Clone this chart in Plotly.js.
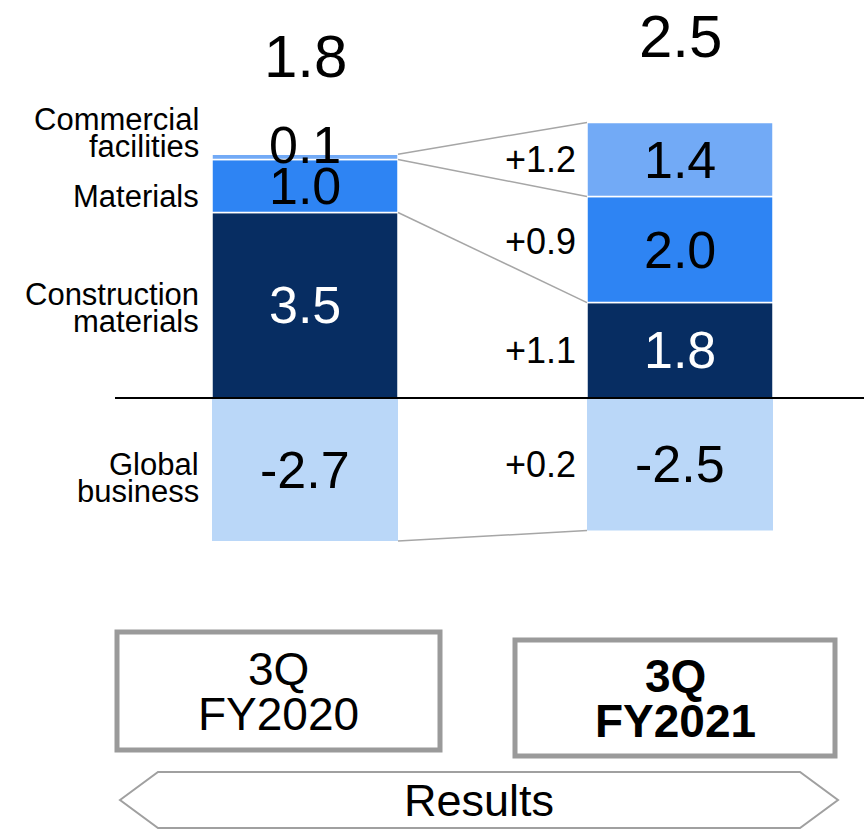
<!DOCTYPE html>
<html>
<head>
<meta charset="utf-8">
<script src="https://cdn.plot.ly/plotly-3.0.1.min.js"></script>
<style>html,body{margin:0;padding:0;background:#fff;}#chart{width:864px;height:830px;}</style>
</head>
<body>
<div id="chart"></div>
<script>
// ---------- data ----------
const periods = ['3Q<br>FY2020', '3Q<br>FY2021'];
const periodBold = [false, true];
const segmentNames = ['Global<br>business', 'Construction<br>materials', 'Materials', 'Commercial<br>facilities'];
const globalBusiness = [-2.7, -2.5];
const constructionMaterials = [3.5, 1.8];
const materialsSeg = [1.0, 2.0];
const commercialFacilities = [0.1, 1.4];
const totals = [1.8, 2.5];
const changeLabels = ['+0.2', '+1.1', '+0.9', '+1.2'];
const bandLabel = 'Results';

// ---------- styling / layout ----------
const FONT = 'Liberation Sans, Arial, sans-serif';
const W = 864, H = 830;
const colors = ['#BAD7F8', '#072D62', '#2E84F3', '#72AAF6'];
const labelColors = ['#000', '#fff', '#000', '#000'];
const barW = 0.496;
const xs = [0, 1];
const px = x => x / W;
const py = y => 1 - y / H;
const totalShift = [98, 86];

const series = [globalBusiness, constructionMaterials, materialsSeg, commercialFacilities];

const traces = series.map((vals, i) => ({
  type: 'bar',
  x: xs,
  y: vals,
  width: barW,
  marker: {color: colors[i], line: {color: i === 0 ? colors[0] : '#ffffff', width: i === 0 ? 0 : 1.5}},
  hoverinfo: 'skip',
  name: segmentNames[i].replace('<br>', ' ')
}));

function ranges(k) {
  const g = globalBusiness[k], c = constructionMaterials[k], m = materialsSeg[k], f = commercialFacilities[k];
  return [[g, 0], [0, c], [c, c + m], [c + m, c + m + f]];
}

const annotations = [];
const shapes = [];

for (let k = 0; k < 2; k++) {
  const r = ranges(k);
  r.forEach((rg, i) => {
    const v = series[i][k];
    const small = Math.abs(rg[1] - rg[0]) < 0.5;
    annotations.push({
      x: xs[k], y: (rg[0] + rg[1]) / 2, xref: 'x', yref: 'y',
      text: v.toFixed(1), showarrow: false,
      xanchor: 'center', yanchor: 'middle', yshift: small ? 12 : 0,
      font: {family: FONT, size: 52, color: labelColors[i]}
    });
  });
  annotations.push({
    x: xs[k], y: r[3][1], xref: 'x', yref: 'y',
    text: totals[k].toFixed(1), showarrow: false,
    xanchor: 'center', yanchor: 'middle', yshift: totalShift[k],
    font: {family: FONT, size: 60, color: '#000'}
  });
}

{
  const r = ranges(1);
  const shifts = [0, 0, 8, 0];
  r.forEach((rg, i) => {
    annotations.push({
      x: xs[1] - barW / 2, y: (rg[0] + rg[1]) / 2, xref: 'x', yref: 'y',
      text: changeLabels[i], showarrow: false,
      xanchor: 'right', yanchor: 'middle', xshift: -9, yshift: shifts[i],
      font: {family: FONT, size: 36, color: '#000'}
    });
  });
}

{
  const r = ranges(0);
  const yshifts = [-8, -3, -10, 24];
  r.forEach((rg, i) => {
    const lines = segmentNames[i].split('<br>');
    const lh = 27;
    lines.forEach((ln, j) => {
      annotations.push({
        x: px(201), y: (rg[0] + rg[1]) / 2, xref: 'paper', yref: 'y',
        text: ln, showarrow: false, xanchor: 'right', yanchor: 'middle',
        yshift: yshifts[i] - (j - (lines.length - 1) / 2) * lh,
        font: {family: FONT, size: 31, color: '#000'}
      });
    });
  });
}

{
  const a = ranges(0), b = ranges(1);
  const pairs = [[a[3][1], b[3][1]], [a[2][1], b[2][1]], [a[1][1], b[1][1]], [a[0][0], b[0][0]]];
  pairs.forEach(p => shapes.push({
    type: 'line', xref: 'x', yref: 'y',
    x0: xs[0] + barW / 2, x1: xs[1] - barW / 2, y0: p[0], y1: p[1],
    line: {color: '#A6A6A6', width: 1.5}, layer: 'above'
  }));
}

shapes.push({type: 'line', xref: 'paper', yref: 'y', x0: px(115), x1: 1, y0: 0, y1: 0,
  line: {color: '#000', width: 2}, layer: 'above'});

const boxes = [[117, 632, 440, 750], [515, 640, 835, 756]];
boxes.forEach((bx, k) => {
  shapes.push({type: 'rect', xref: 'paper', yref: 'paper',
    x0: px(bx[0]), x1: px(bx[2]), y0: py(bx[3]), y1: py(bx[1]),
    line: {color: '#9A9A9A', width: 5}, fillcolor: '#fff'});
  const lines = periods[k].split('<br>');
  const cy = (bx[1] + bx[3]) / 2;
  lines.forEach((ln, j) => {
    annotations.push({
      x: px((bx[0] + bx[2]) / 2), y: py(cy + (j - 0.5) * 45), xref: 'paper', yref: 'paper',
      text: periodBold[k] ? '<b>' + ln + '</b>' : ln, showarrow: false,
      xanchor: 'center', yanchor: 'middle',
      font: {family: FONT, size: 46, color: '#000'}
    });
  });
});

{
  const pts = [[120, 800], [158, 772], [800, 772], [838, 800], [800, 828], [158, 828]];
  const path = 'M' + pts.map(p => px(p[0]).toFixed(5) + ',' + py(p[1]).toFixed(5)).join(' L') + ' Z';
  shapes.push({type: 'path', xref: 'paper', yref: 'paper', path: path,
    line: {color: '#A0A0A0', width: 2}, fillcolor: '#fff'});
  annotations.push({x: px(479), y: py(800), xref: 'paper', yref: 'paper', text: bandLabel,
    showarrow: false, xanchor: 'center', yanchor: 'middle',
    font: {family: FONT, size: 45, color: '#000'}});
}

const pxPerUnit = 53;
const zeroY = 398;
const layout = {
  width: W, height: H,
  margin: {l: 0, r: 0, t: 0, b: 0},
  paper_bgcolor: '#fff', plot_bgcolor: '#fff',
  barmode: 'relative',
  showlegend: false,
  xaxis: {range: [-305 / 375, (W - 305) / 375], visible: false, fixedrange: true},
  yaxis: {range: [-(H - zeroY) / pxPerUnit, zeroY / pxPerUnit], visible: false, zeroline: false, fixedrange: true},
  annotations: annotations,
  shapes: shapes
};

Plotly.newPlot('chart', traces, layout, {displayModeBar: false, staticPlot: true});
</script>
</body>
</html>
